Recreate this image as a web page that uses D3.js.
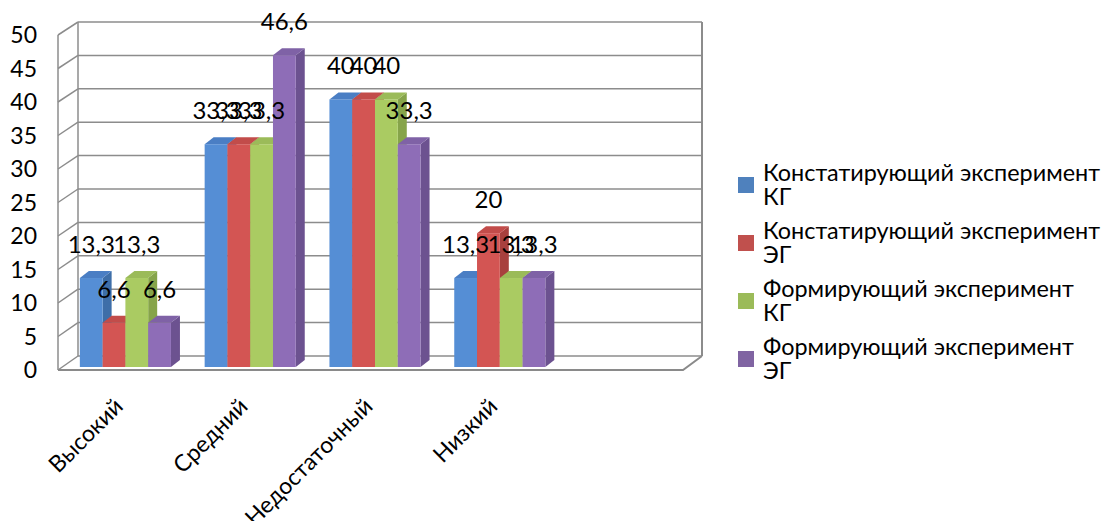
<!DOCTYPE html>
<html>
<head>
<meta charset="utf-8">
<script src="https://cdn.jsdelivr.net/npm/d3@7"></script>
<style>
  html, body { margin: 0; padding: 0; background: #fff; }
  svg { display: block; }
  text { font-family: Lato, "Open Sans", sans-serif; fill: #000; }
</style>
</head>
<body>
<svg id="chart" width="1103" height="521"></svg>
<script>
// Уровни и значения (%) по четырём сериям
const categories = ["Высокий", "Средний", "Недостаточный", "Низкий"];
const seriesNames = [
  "Констатирующий эксперимент КГ",
  "Констатирующий эксперимент ЭГ",
  "Формирующий эксперимент КГ",
  "Формирующий эксперимент ЭГ"
];
const konstKG = [13.3, 33.3, 40, 13.3];
const konstEG = [6.6, 33.3, 40, 20];
const formKG  = [13.3, 33.3, 40, 13.3];
const formEG  = [6.6, 46.6, 33.3, 13.3];
const seriesValues = [konstKG, konstEG, formKG, formEG];
const yTicks = [0, 5, 10, 15, 20, 25, 30, 35, 40, 45, 50];

// Цвета граней столбцов: фронт, бок, верх; и цвет маркера легенды
const faceFront = ["#558ed5", "#d35553", "#aacb62", "#8e6db7"];
const faceSide  = ["#3e6ea8", "#a8403e", "#86a44a", "#6c5290"];
const faceTop   = ["#4a7ec4", "#c24c4a", "#9bbb59", "#7f62a6"];
const legendColors = ["#4f81bd", "#c0504d", "#9bbb59", "#8064a2"];

const svg = d3.select("#chart");

// Псевдо-3D геометрия: передняя кромка, задняя стенка, глубина столбцов
const wallFrontX = 58, wallBackX = 78, wallRightX = 702, floorFrontRightX = 683;
const yFront = d3.scaleLinear().domain([0, 50]).range([370, 35]);  // боковая кромка
const yBack  = d3.scaleLinear().domain([0, 50]).range([356, 22]);  // задняя стенка
const yBar   = d3.scaleLinear().domain([0, 50]).range([367, 32.5]); // фронт столбцов
const barDX = 9, barDY = -7;

const x = d3.scaleBand().domain(categories).range([63, 562.2])
  .paddingInner(0.27).paddingOuter(0.135);
const xs = d3.scaleBand().domain(d3.range(seriesNames.length)).range([0, x.bandwidth()]);

const grid = svg.append("g").attr("fill", "none").attr("stroke", "#8c8c8c").attr("stroke-width", 1.5);

// Линии сетки на задней стенке и на боковой стенке
yTicks.forEach(t => {
  grid.append("line")
    .attr("x1", wallBackX).attr("x2", wallRightX)
    .attr("y1", yBack(t)).attr("y2", yBack(t));
  grid.append("line")
    .attr("x1", wallFrontX).attr("y1", yFront(t))
    .attr("x2", wallBackX).attr("y2", yBack(t));
});
// Вертикальные кромки стенок
grid.append("line").attr("x1", wallFrontX).attr("x2", wallFrontX)
  .attr("y1", yFront(50)).attr("y2", yFront(0));
grid.append("line").attr("x1", wallBackX).attr("x2", wallBackX)
  .attr("y1", yBack(50)).attr("y2", yBack(0));
grid.append("line").attr("x1", wallRightX).attr("x2", wallRightX)
  .attr("y1", yBack(50)).attr("y2", yBack(0)).attr("stroke-width", 2);
// Пол: передняя кромка и правый скос
grid.append("path")
  .attr("d", `M${wallFrontX},${yFront(0)}L${floorFrontRightX},${yFront(0)}L${wallRightX},${yBack(0)}`)
  .attr("stroke", "#8a8a8a").attr("stroke-width", 2);

// Столбцы
const bars = svg.append("g");
categories.forEach((cat, ci) => {
  seriesValues.forEach((vals, si) => {
    const v = vals[ci];
    const x0 = x(cat) + xs(si), x1 = x0 + xs.bandwidth();
    const yt = yBar(v), yb = yBar(0);
    const g = bars.append("g");
    g.append("path")
      .attr("d", `M${x1},${yt}L${x1 + barDX},${yt + barDY}L${x1 + barDX},${yb + barDY}L${x1},${yb}Z`)
      .attr("fill", faceSide[si]);
    g.append("path")
      .attr("d", `M${x0},${yt}L${x0 + barDX},${yt + barDY}L${x1 + barDX},${yt + barDY}L${x1},${yt}Z`)
      .attr("fill", faceTop[si]);
    g.append("rect")
      .attr("x", x0).attr("y", yt).attr("width", x1 - x0).attr("height", yb - yt)
      .attr("fill", faceFront[si]);
  });
});

// Подписи значений над столбцами
const fmt = v => String(v).replace(".", ",");
const labels = svg.append("g").attr("font-size", 24).attr("text-anchor", "middle");
categories.forEach((cat, ci) => {
  seriesValues.forEach((vals, si) => {
    const v = vals[ci];
    labels.append("text")
      .attr("x", x(cat) + xs(si) + xs.bandwidth() / 2)
      .attr("y", yBar(v) - 25)
      .text(fmt(v));
  });
});

// Подписи оси значений
svg.append("g").attr("font-size", 23).attr("text-anchor", "end")
  .selectAll("text").data(yTicks).join("text")
  .attr("x", 37).attr("y", d => yFront(d)).attr("dy", "0.35em")
  .text(d => d);

// Подписи категорий, повёрнутые на 45°
svg.append("g").attr("font-size", 23).attr("text-anchor", "end")
  .selectAll("text").data(categories).join("text")
  .attr("transform", d => `translate(${x(d) + x.bandwidth() / 2 - 1},${408}) rotate(-45)`)
  .text(d => d);

// Легенда
const legend = svg.append("g").attr("font-size", 23.4);
seriesNames.forEach((name, i) => {
  const base = 181 + i * 58;
  const words = name.split(" ");
  const line2 = words.pop();
  legend.append("rect")
    .attr("x", 738).attr("y", base - 4).attr("width", 16).attr("height", 16)
    .attr("fill", legendColors[i]);
  const t = legend.append("text").attr("x", 763).attr("y", base);
  t.append("tspan").attr("x", 763).attr("y", base).text(words.join(" "));
  t.append("tspan").attr("x", 763).attr("y", base + 24).text(line2);
});
</script>
</body>
</html>
